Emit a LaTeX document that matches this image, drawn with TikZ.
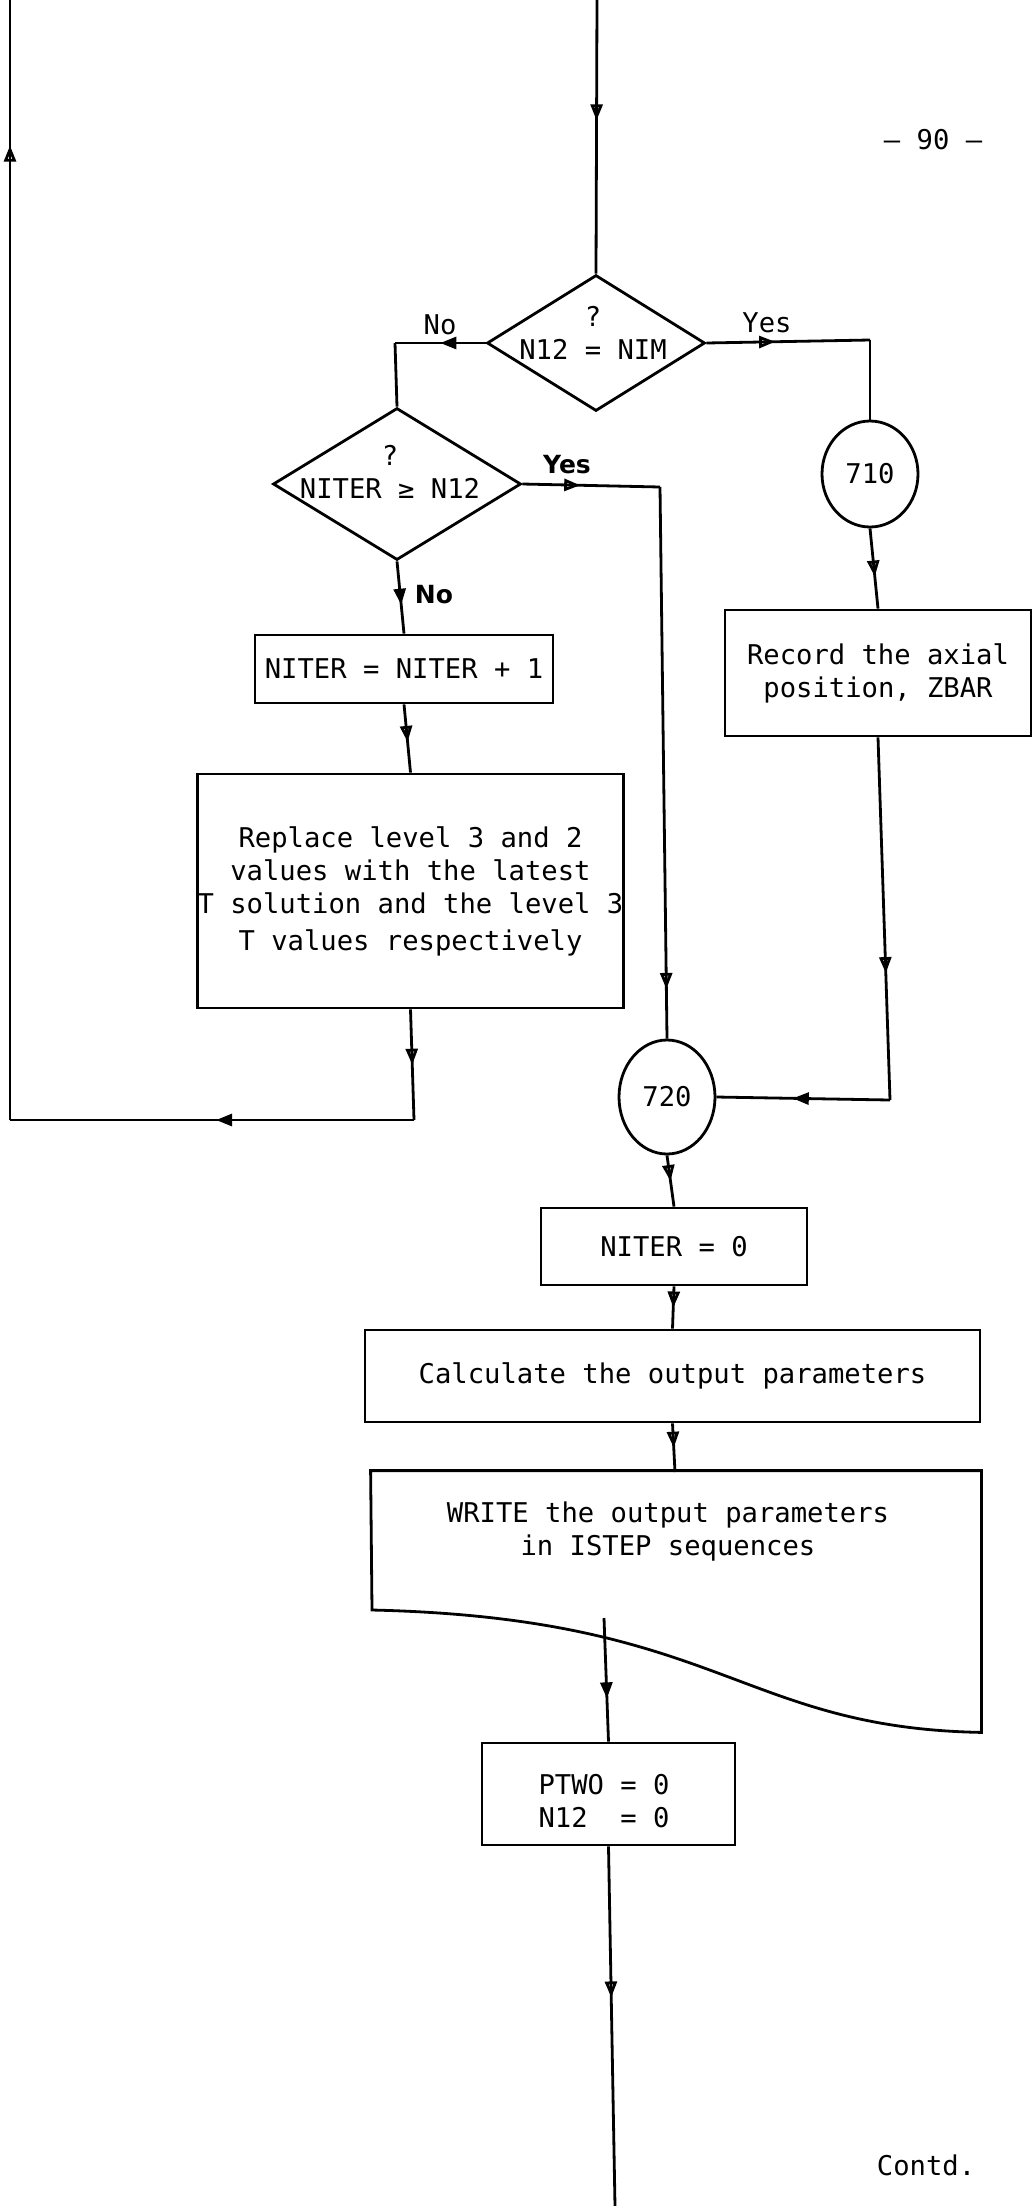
\documentclass[tikz,border=0pt]{standalone}
\usepackage{fontspec}
\setmainfont{DejaVu Sans Mono}
\newfontfamily\handfont{DejaVu Sans}
\usetikzlibrary{shapes.geometric,arrows.meta,decorations.markings}
\begin{document}
\begin{tikzpicture}[x=1pt,y=-1pt,line width=2.8pt,
  every node/.style={font=\fontsize{27.2}{33}\selectfont, inner sep=0pt},
  box/.style={draw, rectangle, align=center},
  dia/.style={draw, diamond, inner sep=0pt},
  circ/.style={draw, ellipse, inner sep=0pt},
  hand/.style={font=\handfont\bfseries\fontsize{25}{28}\selectfont},
  farr/.style={postaction={decorate},decoration={markings,mark=at position #1 with {\arrow{Triangle[length=16pt,width=12pt]}}}},
  oarr/.style={postaction={decorate},decoration={markings,mark=at position #1 with {\arrow{Triangle[open,length=16pt,width=12pt]}}}}
]
\fill[white] (0,0) rectangle (1033,2206);
\useasboundingbox (0,0) rectangle (1033,2206);

% page number
\node (pg) at (933,140) {— 90 —};

% decisions
\node[dia, minimum width=218pt, minimum height=136pt] (d1) at (596,343) {};
\node[align=center] (d1t) at (593,333) {?\\N12 = NIM};
\node[dia, minimum width=248pt, minimum height=152pt] (d2) at (397,484) {};
\node[align=center] (d2t) at (390,472) {?\\NITER ≥ N12};

% connectors (corner points)
\coordinate (top) at (597,0);
\coordinate (c1) at (395,343);
\coordinate (c2) at (414,1120);
\coordinate (c3) at (10,1120);
\coordinate (c4) at (10,0);
\coordinate (c5) at (660,487);
\coordinate (c6) at (870,340);
\coordinate (c7) at (890,1100);
\coordinate (c8) at (615,2206);

% circles
\node[circ, minimum width=96pt, minimum height=106pt] (k710) at (870,474) {710};
\node[circ, minimum width=96pt, minimum height=114pt] (k720) at (667,1097) {720};

% boxes
\node[box, minimum width=298pt, minimum height=68pt] (b1) at (404,669) {NITER = NITER + 1};
\node[box, minimum width=425pt, minimum height=234pt] (big) at (410.5,891)
  {Replace level 3 and 2\\ values with the latest\\T solution and the level 3\\[4pt]T values respectively};
\node[box, minimum width=306pt, minimum height=126pt] (rec) at (878,673) {Record the axial\\position, ZBAR};
\node[box, minimum width=266pt, minimum height=77pt] (n0) at (674,1246.5) {NITER = 0};
\node[box, minimum width=615pt, minimum height=92pt] (calc) at (672.5,1376) {Calculate the output parameters};
\node[minimum width=608pt, minimum height=259pt] (wr) at (676,1601.5) {};
\draw (wr.north west) -- (wr.north east) -- (wr.south east)
  .. controls (740,1728) and (720,1618) .. (372,1610) -- cycle;
\node[align=center] (wrt) at (668,1532) {WRITE the output parameters\\in ISTEP sequences};
\coordinate (wtop) at (675,1472);
\coordinate (wbot) at (604,1618);
\node[box, minimum width=253pt, minimum height=102pt] (pt) at (608.5,1794) {};
\node[align=left] (ptt) at (604,1801) {PTWO = 0\\N12\ \ = 0};

% labels
\node (no1) at (440,325) {No};
\node (yes1) at (767,323) {Yes};
\node[hand] (yes2) at (567,465) {Yes};
\node[hand] (no2) at (434,595) {No};
\node (contd) at (926,2165) {Contd.};

% connectors
\draw[oarr=0.44] (top) -- (d1.north);
\draw[farr=0.5] (d1.west) -- (c1);
\draw (c1) -- (d2.north);
\draw[farr=0.6] (d2.south) -- (b1.north);
\draw[oarr=0.55] (b1.south) -- (big.north);
\draw[oarr=0.5] (big.south) -- (c2);
\draw[farr=0.49] (c2) -- (c3);
\draw[oarr=0.87] (c3) -- (c4);
\draw[oarr=0.42] (d2.east) -- (c5);
\draw[oarr=0.91] (c5) -- (k720.north);
\draw[oarr=0.42] (d1.east) -- (c6);
\draw (c6) -- (k710.north);
\draw[oarr=0.6] (k710.south) -- (rec.north);
\draw[oarr=0.65] (rec.south) -- (c7);
\draw[farr=0.56] (c7) -- (k720.east);
\draw[oarr=0.5] (k720.south) -- (n0.north);
\draw[oarr=0.5] (n0.south) -- (calc.north);
\draw[oarr=0.5] (calc.south) -- (wtop);
\draw[farr=0.65] (wbot) -- (pt.north);
\draw[oarr=0.42] (pt.south) -- (c8);
\end{tikzpicture}
\end{document}
